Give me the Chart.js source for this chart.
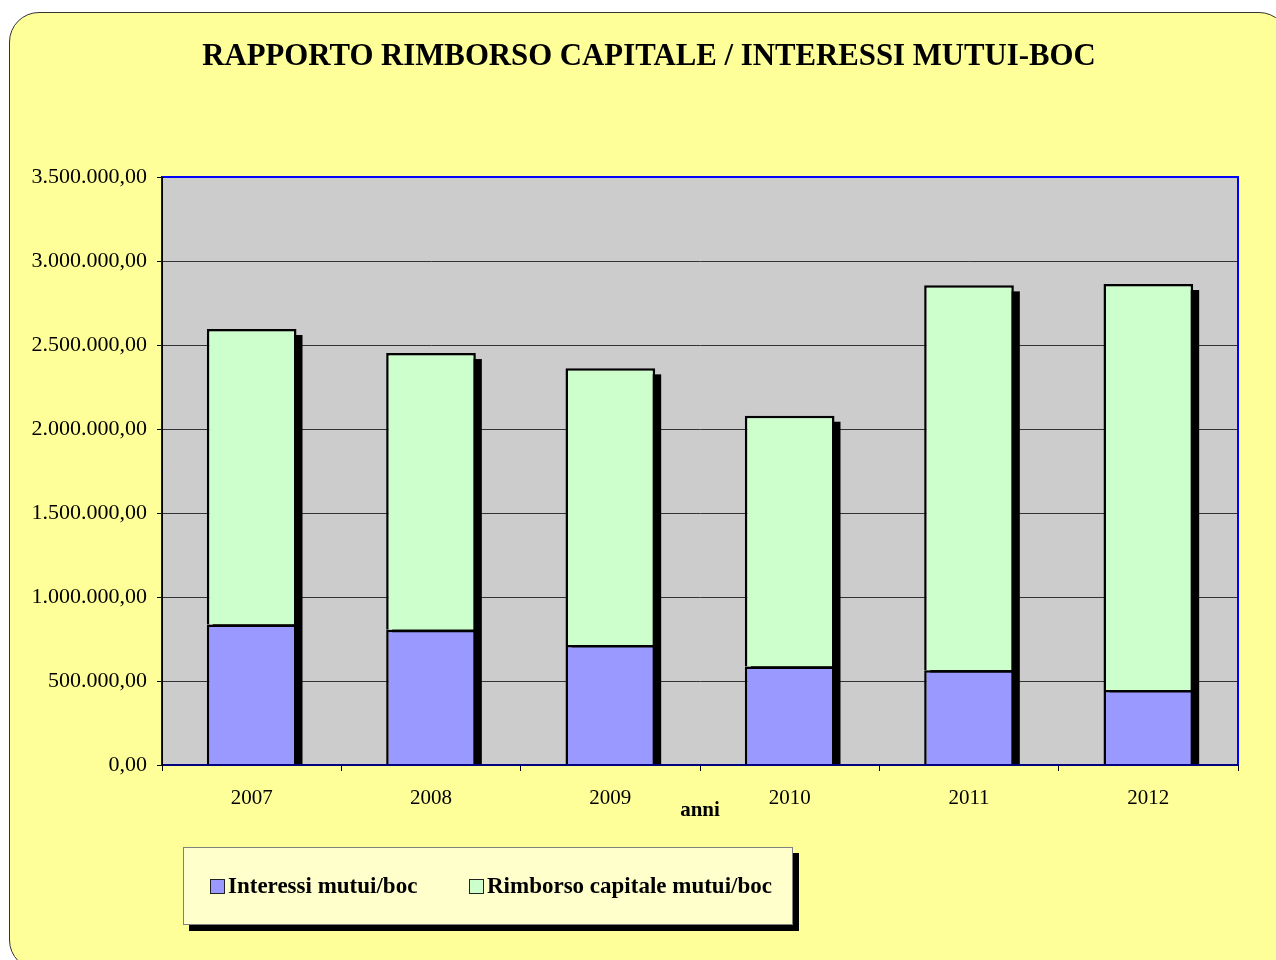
<!DOCTYPE html>
<html>
<head>
<meta charset="utf-8">
<script src="https://cdn.jsdelivr.net/npm/chart.js@4/dist/chart.umd.min.js"></script>
<style>
    html, body { margin: 0; padding: 0; background: #ffffff; }
    body { width: 1276px; height: 960px; position: relative; overflow: hidden; }
    #frame {
        position: absolute; left: 9px; top: 12px; width: 1280px; height: 958px;
        box-sizing: border-box;
        background: #ffff99; border: 1.5px solid #333333; border-radius: 30px;
    }
    #chart { position: absolute; left: 0; top: 0; }
    #title {
        position: absolute; left: 149px; width: 1000px; top: 36px;
        text-align: center; line-height: 38px;
        font-family: 'Liberation Serif', 'Times New Roman', serif;
        font-weight: bold; font-size: 30.8px; color: #000000;
    }
    #legend {
        position: absolute; left: 183px; top: 847px; width: 610px; height: 78px;
        box-sizing: border-box;
        background: #ffffcc; border: 1px solid #808080;
        box-shadow: 6px 6px 0 #000000;
        font-family: 'Liberation Serif', 'Times New Roman', serif;
        font-weight: bold; font-size: 23px; color: #000000;
    }
    .item { position: absolute; top: 25px; display: flex; align-items: center; }
    .swatch { width: 13px; height: 13px; border: 1.5px solid #222222; margin-right: 3px; }
</style>
</head>
<body>
<div id="frame"></div>
<canvas id="chart" width="1276" height="960"></canvas>
<div id="title"></div>
<div id="legend"></div>

<script>
// --- Data ----------------------------------------------------------------

const YEARS = ['2007', '2008', '2009', '2010', '2011', '2012'];
const INTERESSI = [837000, 805000, 714000, 587000, 564000, 446000];
const RIMBORSO = [1758000, 1647000, 1647000, 1492000, 2291000, 2417000];

const SERIES_NAMES = ['Interessi mutui/boc', 'Rimborso capitale mutui/boc'];
const SERIES_COLORS = ['#9999ff', '#ccffcc'];

const TITLE = 'RAPPORTO RIMBORSO CAPITALE / INTERESSI MUTUI-BOC';
const X_TITLE = 'anni';

const FONT = "'Liberation Serif', 'Times New Roman', serif";

// --- Helpers -------------------------------------------------------------

// 3500000 -> "3.500.000,00"
function formatIt(v) {
    const int = Math.round(v).toString().replace(/\B(?=(\d{3})+(?!\d))/g, '.');
    return int + ',00';
}

// grey plot background, blue frame and column shadows
const plotArea = {
    id: 'plotArea',
    beforeDraw(chart) {
        const { ctx, chartArea: a } = chart;
        ctx.save();
        ctx.fillStyle = '#cccccc';
        ctx.fillRect(a.left, a.top, a.right - a.left, a.bottom - a.top);
        ctx.restore();
    },
    beforeDatasetsDraw(chart) {
        const { ctx, chartArea: a } = chart;
        ctx.save();
        ctx.strokeStyle = '#0000ff';
        ctx.lineWidth = 2;
        ctx.strokeRect(a.left, a.top, a.right - a.left, a.bottom - a.top);

        // drop shadow behind each stacked column
        const top = chart.getDatasetMeta(1).data;
        const base = chart.scales.y.getPixelForValue(0);
        ctx.beginPath();
        ctx.rect(a.left, a.top, a.right - a.left, a.bottom - a.top);
        ctx.clip();
        ctx.fillStyle = '#000000';
        top.forEach((bar) => {
            const w = bar.width;
            ctx.fillRect(bar.x - w / 2 + 6, bar.y + 6, w, base - bar.y - 6);
        });
        ctx.restore();
    },
};

// --- Chart ---------------------------------------------------------------

// Title sits off-centre in the original, so it lives in the page, not the canvas
document.getElementById('title').textContent = TITLE;

new Chart(document.getElementById('chart'), {
    type: 'bar',
    data: {
        labels: YEARS,
        datasets: [
            {
                label: SERIES_NAMES[0],
                data: INTERESSI,
                backgroundColor: SERIES_COLORS[0],
                borderColor: '#000000',
                borderWidth: 2.5,
            },
            {
                label: SERIES_NAMES[1],
                data: RIMBORSO,
                backgroundColor: SERIES_COLORS[1],
                borderColor: '#000000',
                borderWidth: 2.5,
            },
        ],
    },
    options: {
        responsive: false,
        animation: false,
        devicePixelRatio: 1,
        datasets: { bar: { barPercentage: 0.5, categoryPercentage: 1.0 } },
        layout: { padding: { left: 0, right: 38, top: 177, bottom: 135 } },
        plugins: {
            legend: { display: false },
            tooltip: { enabled: false },
            title: { display: false },
        },
        scales: {
            x: {
                stacked: true,
                afterFit: (s) => { s.height = 60; },
                grid: {
                    offset: true,
                    drawOnChartArea: false,
                    tickLength: 6,
                    tickColor: '#000000',
                },
                border: { color: '#000080', width: 2, z: 1 },
                ticks: {
                    color: '#000000',
                    padding: 15,
                    font: { family: FONT, size: 21 },
                },
                title: {
                    display: true,
                    text: X_TITLE,
                    color: '#000000',
                    font: { family: FONT, size: 21, weight: 'bold' },
                    padding: { top: 0, bottom: 2 },
                },
            },
            y: {
                stacked: true,
                min: 0,
                max: 3500000,
                afterFit: (s) => { s.width = 162; },
                grid: {
                    color: '#333333',
                    lineWidth: 1,
                    tickLength: 5,
                    tickColor: '#000000',
                },
                border: { color: '#000000', width: 1, z: 1 },
                ticks: {
                    stepSize: 500000,
                    color: '#000000',
                    padding: 10,
                    font: { family: FONT, size: 22 },
                    callback: (v) => formatIt(v),
                },
            },
        },
    },
    plugins: [plotArea],
});

// --- Legend (boxed, with shadow) -----------------------------------------

const LEGEND_X = [26, 285];
const legendEl = document.getElementById('legend');
SERIES_NAMES.forEach((name, i) => {
    const item = document.createElement('div');
    item.className = 'item';
    item.style.left = LEGEND_X[i] + 'px';
    item.innerHTML = `<span class="swatch" style="background:${SERIES_COLORS[i]}"></span><span>${name}</span>`;
    legendEl.appendChild(item);
});
</script>
</body>
</html>
